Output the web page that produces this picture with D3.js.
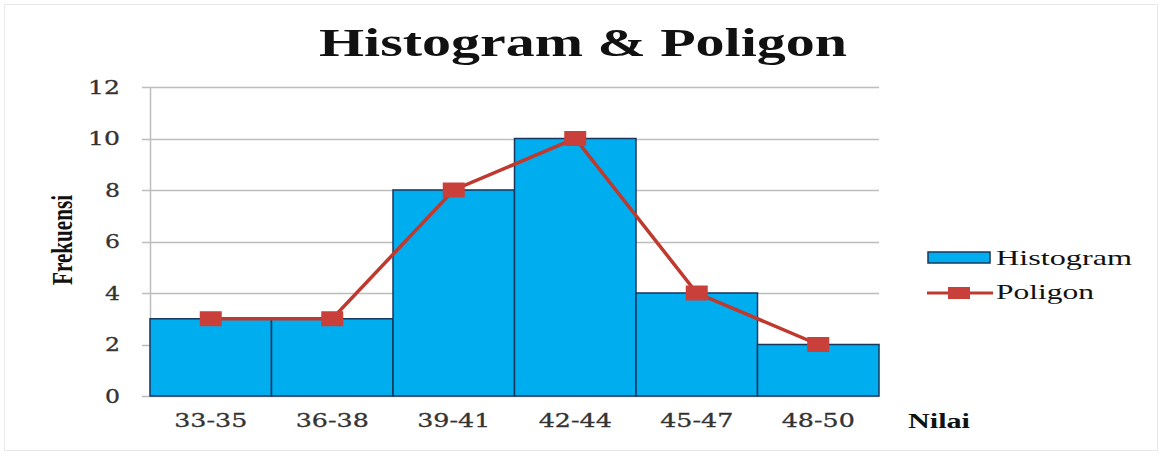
<!DOCTYPE html>
<html>
<head>
<meta charset="utf-8">
<script src="https://cdn.jsdelivr.net/npm/d3@7"></script>
<style>
  html, body { margin: 0; padding: 0; background: #fff; }
  svg { display: block; }
</style>
</head>
<body>
<svg id="chart" width="1162" height="458"></svg>
<script>
const categories = ["33-35", "36-38", "39-41", "42-44", "45-47", "48-50"];
const histogramValues = [3, 3, 8, 10, 4, 2];
const poligonValues = [3, 3, 8, 10, 4, 2];
const yTicks = [0, 2, 4, 6, 8, 10, 12];

const svg = d3.select("#chart");
const W = 1162, H = 458;
const plot = { left: 150, right: 879, top: 87, bottom: 396 };

// frame
svg.append("rect").attr("x", 4.5).attr("y", 4.5).attr("width", W - 9).attr("height", H - 12)
  .attr("fill", "#fff").attr("stroke", "#e8e8e8").attr("stroke-width", 1);

const x = d3.scaleBand().domain(categories).range([plot.left, plot.right]).padding(0);
const y = d3.scaleLinear().domain([0, 12]).range([plot.bottom, plot.top]);

// gridlines
svg.append("g").selectAll("line").data(yTicks).join("line")
  .attr("x1", plot.left - 8).attr("x2", plot.right)
  .attr("y1", d => Math.round(y(d)) + 0.5).attr("y2", d => Math.round(y(d)) + 0.5)
  .attr("stroke", "#bdbdbd").attr("stroke-width", 1.5);

// y axis
const yAxis = svg.append("g").attr("transform", `translate(${plot.left},0)`)
  .call(d3.axisLeft(y).tickValues(yTicks).tickSize(0).tickPadding(30));
yAxis.select(".domain").attr("stroke", "#bdbdbd").attr("stroke-width", 1.5);
yAxis.selectAll("text")
  .attr("font-family", "'DejaVu Serif', serif").attr("font-size", 18)
  .attr("fill", "#333").attr("stroke", "#333").attr("stroke-width", 0.3).attr("dy", "0.36em")
  .attr("textLength", d => d >= 10 ? 32 : 15).attr("lengthAdjust", "spacingAndGlyphs");

// bars
svg.append("g").selectAll("rect").data(histogramValues).join("rect")
  .attr("x", (d, i) => x(categories[i]))
  .attr("y", d => y(d))
  .attr("width", x.bandwidth())
  .attr("height", d => y(0) - y(d))
  .attr("fill", "#00AEEF")
  .attr("stroke", "#17375E").attr("stroke-width", 1.5);

// x axis labels
const xAxis = svg.append("g").attr("transform", `translate(0,${plot.bottom})`)
  .call(d3.axisBottom(x).tickSize(0).tickPadding(18));
xAxis.select(".domain").remove();
xAxis.selectAll("text")
  .attr("font-family", "'DejaVu Serif', serif").attr("font-size", 18)
  .attr("fill", "#333").attr("stroke", "#333").attr("stroke-width", 0.3)
  .attr("textLength", 73).attr("lengthAdjust", "spacingAndGlyphs");

// poligon line
const line = d3.line()
  .x((d, i) => x(categories[i]) + x.bandwidth() / 2)
  .y(d => y(d));
svg.append("path").datum(poligonValues)
  .attr("d", line).attr("fill", "none")
  .attr("stroke", "#C0392F").attr("stroke-width", 3.5);
svg.append("g").selectAll("rect").data(poligonValues).join("rect")
  .attr("x", (d, i) => x(categories[i]) + x.bandwidth() / 2 - 11)
  .attr("y", d => y(d) - 7.5)
  .attr("width", 22).attr("height", 15)
  .attr("fill", "#C9403A");

// title
svg.append("text").attr("x", 583).attr("y", 56).attr("text-anchor", "middle")
  .attr("font-family", "'Liberation Serif', 'Times New Roman', serif")
  .attr("font-weight", "bold").attr("font-size", 40).attr("fill", "#111")
  .attr("textLength", 528).attr("lengthAdjust", "spacingAndGlyphs")
  .text("Histogram & Poligon");

// y axis title
svg.append("text").attr("transform", "translate(72,240) rotate(-90)")
  .attr("text-anchor", "middle")
  .attr("font-family", "'Liberation Serif', serif").attr("font-weight", "bold")
  .attr("font-size", 30).attr("fill", "#111")
  .attr("textLength", 90).attr("lengthAdjust", "spacingAndGlyphs")
  .text("Frekuensi");

// x axis title
svg.append("text").attr("x", 939).attr("y", 428).attr("text-anchor", "middle")
  .attr("font-family", "'Liberation Serif', serif").attr("font-weight", "bold")
  .attr("font-size", 20).attr("fill", "#111")
  .attr("textLength", 62).attr("lengthAdjust", "spacingAndGlyphs")
  .text("Nilai");

// legend
const lg = svg.append("g");
lg.append("rect").attr("x", 928).attr("y", 252).attr("width", 62).attr("height", 11)
  .attr("fill", "#00AEEF").attr("stroke", "#17375E").attr("stroke-width", 1.5);
lg.append("text").attr("x", 996).attr("y", 265)
  .attr("font-family", "'Liberation Serif', serif").attr("font-size", 21).attr("fill", "#111")
  .attr("textLength", 136).attr("lengthAdjust", "spacingAndGlyphs")
  .text("Histogram");
lg.append("line").attr("x1", 927).attr("x2", 993).attr("y1", 293).attr("y2", 293)
  .attr("stroke", "#C0392F").attr("stroke-width", 3);
lg.append("rect").attr("x", 948).attr("y", 287).attr("width", 22).attr("height", 12)
  .attr("fill", "#C9403A");
lg.append("text").attr("x", 996).attr("y", 299)
  .attr("font-family", "'Liberation Serif', serif").attr("font-size", 21).attr("fill", "#111")
  .attr("textLength", 98).attr("lengthAdjust", "spacingAndGlyphs")
  .text("Poligon");
</script>
</body>
</html>
